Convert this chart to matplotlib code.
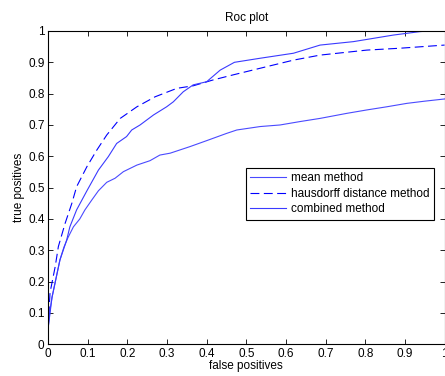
import matplotlib
matplotlib.use('Agg')
import matplotlib.pyplot as plt

# ROC curves
mean_fp = [0, 0.005, 0.01, 0.02, 0.03, 0.04, 0.05, 0.064, 0.08, 0.093, 0.11, 0.127,
           0.148, 0.169, 0.19, 0.224, 0.257, 0.282, 0.308, 0.358, 0.4, 0.45, 0.476,
           0.535, 0.585, 0.636, 0.686, 0.753, 0.804, 0.854, 0.905, 0.95, 1.0]
mean_tp = [0.05, 0.11, 0.15, 0.21, 0.27, 0.31, 0.34, 0.375, 0.40, 0.429, 0.46, 0.49,
           0.517, 0.53, 0.551, 0.572, 0.586, 0.604, 0.61, 0.631, 0.65, 0.673, 0.684,
           0.695, 0.70, 0.711, 0.721, 0.737, 0.748, 0.758, 0.769, 0.776, 0.783]

haus_fp = [0, 0.003, 0.005, 0.018, 0.026, 0.043, 0.06, 0.072, 0.098, 0.123, 0.148,
           0.182, 0.224, 0.27, 0.325, 0.366, 0.417, 0.467, 0.551, 0.619, 0.686,
           0.804, 0.888, 1.0]
haus_tp = [0.05, 0.12, 0.165, 0.248, 0.312, 0.386, 0.45, 0.503, 0.567, 0.62, 0.668,
           0.721, 0.758, 0.79, 0.817, 0.825, 0.844, 0.86, 0.886, 0.907, 0.923,
           0.939, 0.945, 0.955]

comb_fp = [0, 0.005, 0.01, 0.02, 0.03, 0.047, 0.055, 0.072, 0.098, 0.127, 0.152,
           0.173, 0.198, 0.211, 0.232, 0.266, 0.299, 0.316, 0.341, 0.366, 0.40,
           0.434, 0.47, 0.535, 0.619, 0.686, 0.77, 0.871, 0.938, 0.96, 1.0]
comb_tp = [0.05, 0.10, 0.15, 0.21, 0.269, 0.333, 0.375, 0.429, 0.49, 0.556, 0.599,
           0.641, 0.663, 0.684, 0.70, 0.732, 0.758, 0.774, 0.806, 0.828, 0.838,
           0.875, 0.90, 0.913, 0.929, 0.955, 0.966, 0.987, 0.998, 1.0, 1.0]

xticks = [0, 0.1, 0.2, 0.3, 0.4, 0.5, 0.6, 0.7, 0.8, 0.9, 1]
yticks = [0, 0.1, 0.2, 0.3, 0.4, 0.5, 0.6, 0.7, 0.8, 0.9, 1]

plt.rcParams['font.family'] = ['Liberation Sans', 'DejaVu Sans']
plt.rcParams['font.size'] = 8.5

fig = plt.figure(figsize=(4.45, 3.76), dpi=100)
ax = fig.add_axes([0.108, 0.0843, 0.891, 0.8333])

ax.plot(mean_fp, mean_tp, color='#4a4aff', lw=0.8, label='mean method')
ax.plot(haus_fp, haus_tp, color='#0000ff', lw=0.8, linestyle=(0, (8, 4)),
        label='hausdorff distance method')
ax.plot(comb_fp, comb_tp, color='#3a3aff', lw=0.8, label='combined method')

ax.set_xlim(0, 1)
ax.set_ylim(0, 1)
ax.set_xticks(xticks)
ax.set_yticks(yticks)
ax.set_xticklabels([str(t) for t in xticks])
ax.set_yticklabels([str(t) for t in yticks])
ax.tick_params(direction='in', top=True, right=True, length=3.5, width=0.6, pad=2.5)
for s in ax.spines.values():
    s.set_linewidth(0.8)

ax.set_title('Roc plot', fontsize=8.5, pad=7)
ax.set_xlabel('false positives', labelpad=0)
ax.set_ylabel('true positives', labelpad=2)

leg = ax.legend(loc='upper left', bbox_to_anchor=(0.50, 0.562), fancybox=False,
                edgecolor='black', framealpha=1, borderpad=0.35, labelspacing=0.3,
                handlelength=3.0, handletextpad=0.45, fontsize=8.5, borderaxespad=0)
leg.get_frame().set_linewidth(0.8)

fig.savefig('out.png', dpi=100)
